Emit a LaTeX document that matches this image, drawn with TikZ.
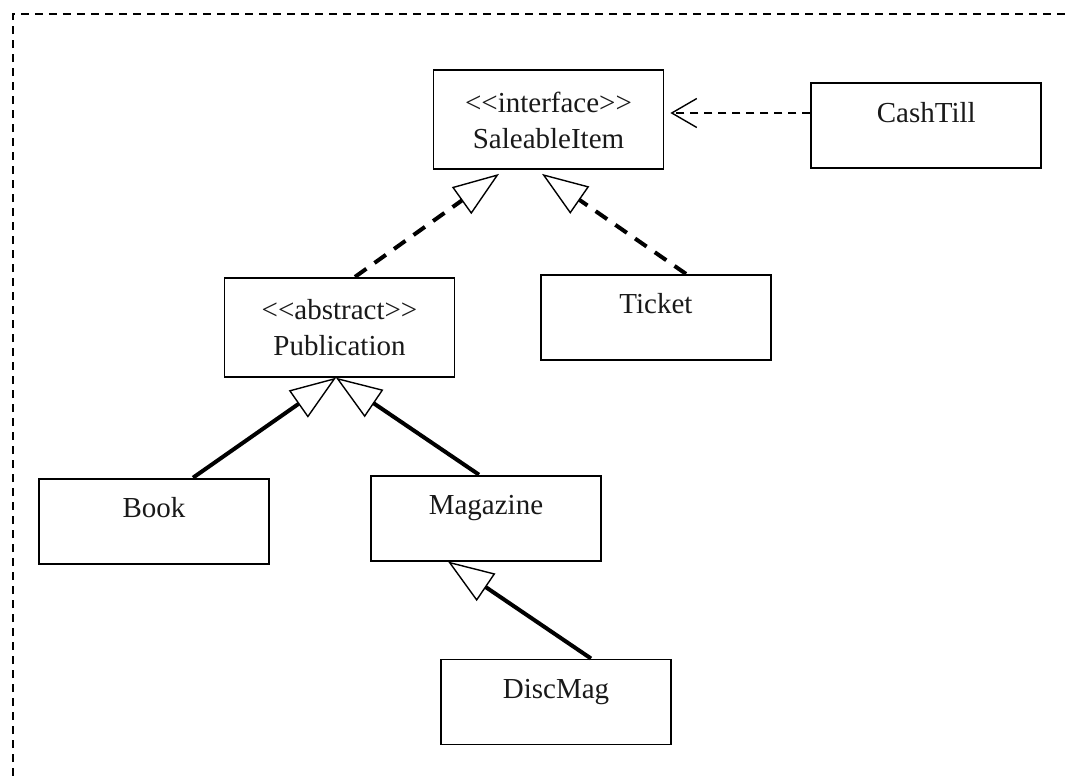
\documentclass[tikz,border=0pt]{standalone}
\usepackage{fontspec}
\setmainfont{Liberation Serif}
\usetikzlibrary{positioning, arrows.meta, calc}

% two stacked lines inside one class box
\newcommand{\twoline}[2]{\begin{tabular}[t]{@{}c@{}}#1\\#2\end{tabular}}

\begin{document}
\begin{tikzpicture}[
    cls/.style={draw, line width=0.9pt, minimum width=115pt, inner sep=0pt, text height=19.5pt, text depth=23pt, text=black!90, font=\fontsize{14.5}{18}\selectfont},
    stereo/.style={cls, text height=21pt, text depth=28.5pt},
    realize/.style={-{Triangle[open, length=23pt, width=16.5pt, line width=0.7pt]}, line width=2pt, dash pattern=on 7pt off 5pt},
    inherit/.style={-{Triangle[open, length=23pt, width=16.5pt, line width=0.7pt]}, line width=2pt},
    uses/.style={-{Straight Barb[length=12.5pt, width=14.5pt, line width=0.7pt]}, line width=0.7pt, dash pattern=on 4pt off 3pt},
    frame/.style={line width=1pt, dash pattern=on 4pt off 3pt}
]
    \useasboundingbox (0,0) rectangle (533pt,-388pt);

    % Outer frame
    \draw[frame] (6.5pt,-388pt) -- (6.5pt,-7pt) -- (533pt,-7pt);

    % Interface and its user
    \node[stereo] (sale) at (274.25pt,-59.75pt) {\twoline{<{}<interface>{}>}{SaleableItem}};
    \node[cls, right=73pt of sale, yshift=-3pt] (till) {CashTill};

    % Implementing classes
    \node[stereo, below=53.5pt of sale, xshift=-104.5pt] (pub) {\twoline{<{}<abstract>{}>}{Publication}};
    \node[cls, below=52pt of sale, xshift=53.75pt] (ticket) {Ticket};

    % Subclasses
    \node[cls, below=50pt of pub, xshift=-92.75pt] (book) {Book};
    \node[cls, below=48.5pt of pub, xshift=73.25pt] (mag) {Magazine};
    \node[cls, below=48.5pt of mag, xshift=35pt] (disc) {DiscMag};

    % Dependency
    \draw[uses] ([yshift=6.25pt]till.west) -- ([xshift=3pt, yshift=3.25pt]sale.east);

    % Realizations
    \draw[realize] ([xshift=7.75pt]pub.north) -- ([xshift=-24.75pt, yshift=-2pt]sale.south);
    \draw[realize] ([xshift=15pt]ticket.north) -- ([xshift=-3.25pt, yshift=-2pt]sale.south);

    % Generalizations
    \draw[inherit] ([xshift=19.5pt]book.north) -- ([xshift=-1.75pt]pub.south);
    \draw[inherit] ([xshift=-3.5pt]mag.north) -- ([xshift=-1.75pt]pub.south);
    \draw[inherit] ([xshift=17.5pt]disc.north) -- ([xshift=-19pt]mag.south);

\end{tikzpicture}
\end{document}
